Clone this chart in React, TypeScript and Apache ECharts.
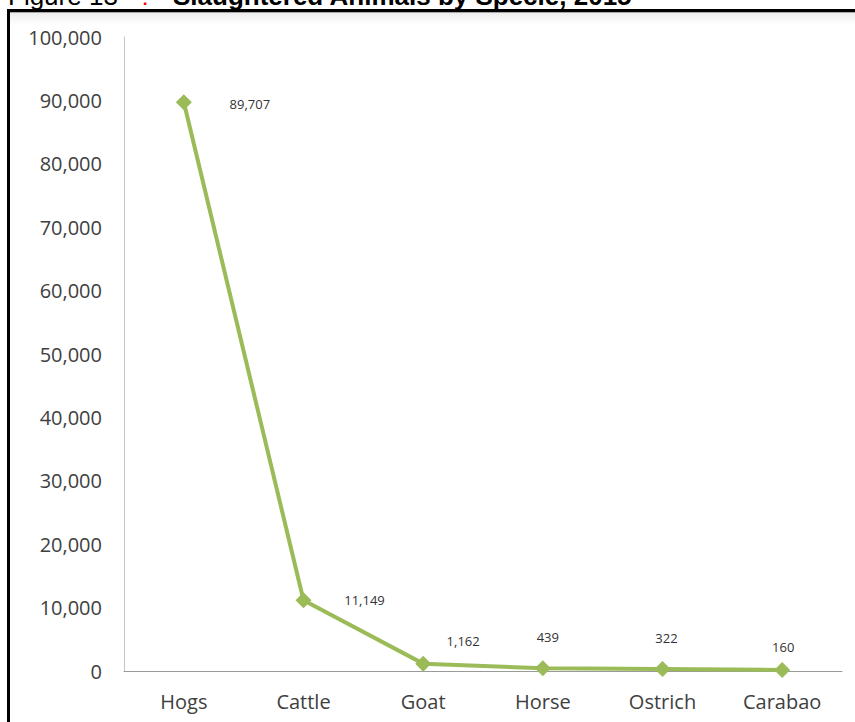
import React, { useEffect, useRef } from "react";
import * as echarts from "echarts";

const categories = ["Hogs", "Cattle", "Goat", "Horse", "Ostrich", "Carabao"];
const slaughtered = [89707, 11149, 1162, 439, 322, 160];
const yTicks = { min: 0, max: 100000, interval: 10000 };
const titleLead = "Figure 13";
const titleMark = ":";
const titleMain = "Slaughtered Animals by Specie, 2015";

// label placement (style, not data)
const labelOffsets: [number, number][] = [
  [66, 2],
  [61, 0],
  [40, -23],
  [5, -31],
  [4, -31],
  [1, -23],
];

const fmt = (v: number) => v.toLocaleString("en-US");

export default function App() {
  const ref = useRef<HTMLDivElement>(null);
  useEffect(() => {
    if (!ref.current) return;
    const chart = echarts.init(ref.current, null, { renderer: "svg" });
    chart.setOption({
      animation: false,
      backgroundColor: "#ffffff",
      grid: { left: 124, right: 13, top: 37, bottom: 51 },
      xAxis: {
        type: "category",
        data: categories,
        boundaryGap: true,
        axisLine: { show: true, lineStyle: { color: "#9a9a9a", width: 1 } },
        axisTick: { show: false },
        axisLabel: {
          fontSize: 20,
          color: "#404040",
          fontFamily: "Open Sans",
          margin: 20,
        },
        splitLine: { show: false },
      },
      yAxis: {
        type: "value",
        min: yTicks.min,
        max: yTicks.max,
        interval: yTicks.interval,
        axisLine: { show: true, lineStyle: { color: "#c4c4c4", width: 1 } },
        axisTick: { show: false },
        splitLine: { show: false },
        axisLabel: {
          fontSize: 20,
          color: "#404040",
          fontFamily: "Open Sans",
          margin: 22,
          formatter: (v: number) => fmt(v),
        },
      },
      series: [
        {
          type: "line",
          data: slaughtered.map((v, i) => ({
            value: v,
            label: { offset: labelOffsets[i] },
          })),
          symbol: "diamond",
          symbolSize: 16,
          itemStyle: { color: "#9BBB59" },
          lineStyle: { color: "#9BBB59", width: 4 },
          label: {
            show: true,
            position: "inside",
            fontSize: 13,
            color: "#333333",
            fontFamily: "Open Sans",
            formatter: (p: any) => fmt(p.value),
          },
        },
      ],
      graphic: [
        {
          type: "rect",
          z: 0,
          shape: { x: 10, y: 12, width: 845, height: 1 },
          style: { fill: "#a8a8a8" },
          silent: true,
        },
        {
          type: "rect",
          z: 0,
          shape: { x: 10, y: 13, width: 845, height: 12 },
          style: {
            fill: new echarts.graphic.LinearGradient(0, 0, 0, 1, [
              { offset: 0, color: "#ededed" },
              { offset: 1, color: "#ffffff" },
            ]),
          },
          silent: true,
        },
        {
          type: "rect",
          z: 10,
          shape: { x: 8.5, y: 10.5, width: 900, height: 800 },
          style: { fill: "none", stroke: "#000000", lineWidth: 3 },
          silent: true,
        },
        {
          type: "text",
          z: 10,
          x: 8,
          y: -4,
          style: {
            text: titleLead,
            fontSize: 26,
            fontFamily: "Liberation Sans",
            fill: "#000000",
            verticalAlign: "middle",
            align: "left",
          },
        },
        {
          type: "text",
          z: 10,
          x: 145,
          y: -4,
          style: {
            text: titleMark,
            fontSize: 26,
            fontFamily: "Liberation Sans",
            fill: "#ff0000",
            verticalAlign: "middle",
            align: "center",
          },
        },
        {
          type: "text",
          z: 10,
          x: 173,
          y: -4,
          style: {
            text: titleMain,
            fontSize: 26,
            fontWeight: "bold",
            fontFamily: "Liberation Sans",
            fill: "#000000",
            verticalAlign: "middle",
            align: "left",
          },
        },
      ],
    });
    return () => chart.dispose();
  }, []);
  return (
    <div
      ref={ref}
      style={{ position: "fixed", left: 0, top: 0, width: 855, height: 722 }}
    />
  );
}
